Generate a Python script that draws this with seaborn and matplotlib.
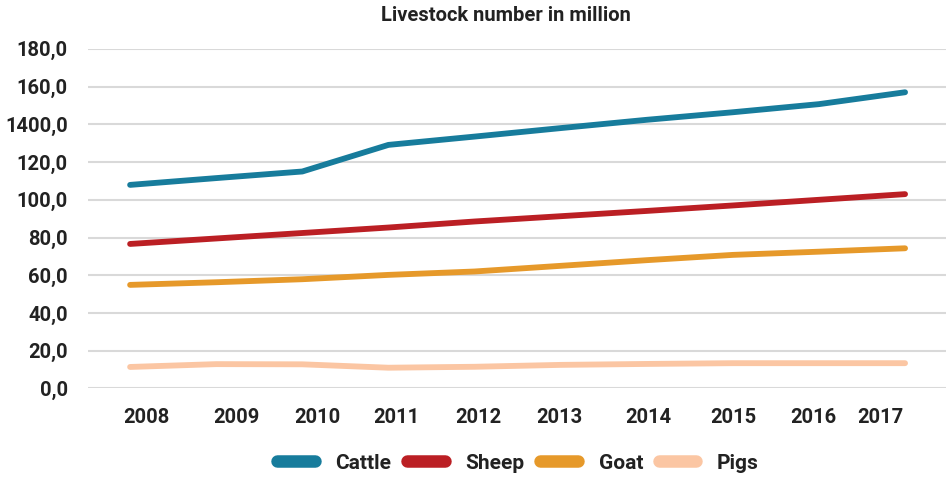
import matplotlib
matplotlib.use("Agg")
import matplotlib.pyplot as plt
import seaborn as sns
import pandas as pd

years = [2008, 2009, 2010, 2011, 2012, 2013, 2014, 2015, 2016, 2017]
cattle = [107.9, 111.5, 115.0, 129.1, 133.5, 138.0, 142.4, 146.4, 150.7, 157.0]
sheep = [76.6, 79.5, 82.4, 85.3, 88.5, 91.3, 94.1, 97.0, 100.0, 103.0]
goat = [54.9, 56.3, 57.9, 60.2, 62.0, 65.0, 68.0, 70.8, 72.5, 74.3]
pigs = [11.4, 12.9, 12.8, 11.0, 11.5, 12.5, 13.0, 13.4, 13.4, 13.4]
series_names = ["Cattle", "Sheep", "Goat", "Pigs"]
y_tick_values = [0, 20, 40, 60, 80, 100, 120, 140, 160, 180]
y_tick_labels = ["0,0", "20,0", "40,0", "60,0", "80,0", "100,0", "120,0", "1400,0", "160,0", "180,0"]
title = "Livestock number in million"

colors = ["#177c9c", "#bb1f24", "#e6992a", "#fbc6a3"]

rows = []
for name, vals in zip(series_names, [cattle, sheep, goat, pigs]):
    for i, (yr, v) in enumerate(zip(years, vals)):
        rows.append({"idx": i, "year": yr, "value": v, "series": name})
df = pd.DataFrame(rows)

sns.set_theme(style="white")
plt.rcParams["font.family"] = ["Roboto", "DejaVu Sans"]

fig = plt.figure(figsize=(9.47, 4.79), dpi=100)
ax = fig.add_axes([0.093, 0.189, 0.906, 0.709])

sns.lineplot(data=df, x="idx", y="value", hue="series", palette=colors,
             hue_order=series_names, linewidth=4.2, ax=ax, legend=False)
for ln in ax.get_lines():
    ln.set_solid_capstyle("round")
    ln.set_solid_joinstyle("round")

ax.set_ylim(0, 180)
ax.set_xlim(-0.488, 9.476)
ax.set_yticks(y_tick_values)
ax.set_yticklabels(y_tick_labels)
# label positions as drawn in the reference (slightly offset from the points)
label_pos = [0.19, 1.24, 2.18, 3.09, 4.04, 4.98, 6.02, 7.0, 7.93, 8.71]
ax.set_xticks(label_pos)
ax.set_xticklabels([str(y) for y in years])
ax.tick_params(axis="y", labelsize=14.5, pad=14.5, colors="#222222", length=0)
ax.tick_params(axis="x", labelsize=14.5, pad=14, colors="#222222", length=0)
for lab in ax.get_xticklabels() + ax.get_yticklabels():
    lab.set_fontweight("bold")
ax.set_xlabel("")
ax.set_ylabel("")
ax.grid(axis="y", color="#d9d9d9", linewidth=1.5)
ax.set_axisbelow(True)
for s in ax.spines.values():
    s.set_visible(False)

fig.text(0.534, 0.968, title, ha="center", va="center", fontsize=14.5,
         fontweight="bold", color="#222222")

handles = [plt.Line2D([0], [0], color=c, linewidth=9, solid_capstyle="round") for c in colors]
leg = fig.legend(handles, series_names, loc="center", bbox_to_anchor=(0.547, 0.033),
                 ncol=4, frameon=False, handlelength=1.8, handletextpad=1.0,
                 columnspacing=0.75, prop={"size": 15, "weight": "bold"})
for t in leg.get_texts():
    t.set_color("#222222")

fig.savefig("out.png", dpi=100, facecolor="white")
